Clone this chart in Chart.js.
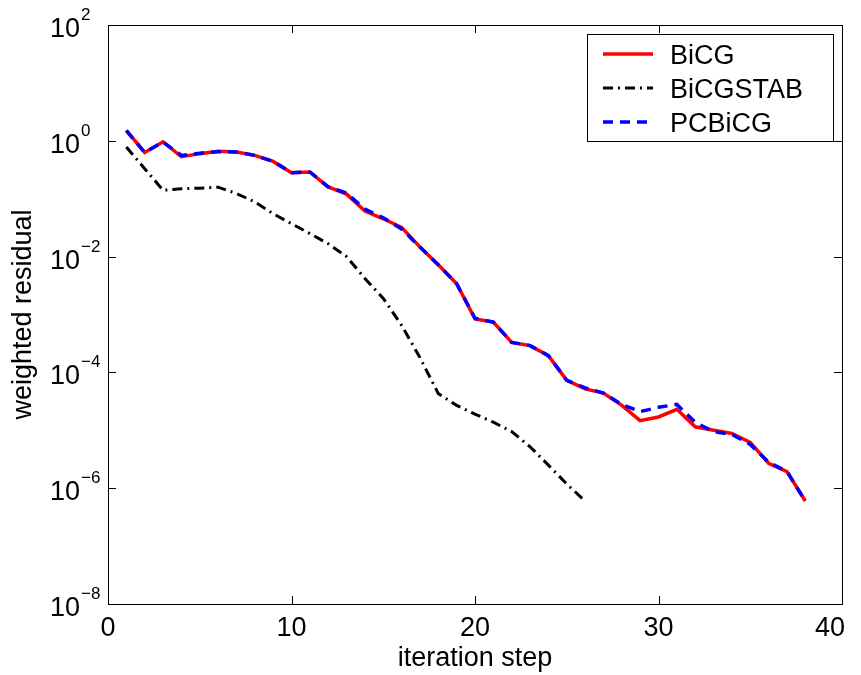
<!DOCTYPE html>
<html>
<head>
<meta charset="utf-8">
<script src="https://cdn.jsdelivr.net/npm/chart.js@4.4.1/dist/chart.umd.min.js"></script>
<style>
  html, body { margin: 0; padding: 0; background: #fff; }
</style>
</head>
<body>
<canvas id="resChart" width="861" height="675"></canvas>
<script>
// iteration steps and residuals
const steps = [1, 2, 3, 4, 5, 6, 7, 8, 9, 10, 11, 12, 13, 14, 15, 16, 17, 18, 19, 20,
               21, 22, 23, 24, 25, 26, 27, 28, 29, 30, 31, 32, 33, 34, 35, 36, 37, 38];
const bicg = [1.52, 0.63, 0.96, 0.53, 0.60, 0.66, 0.64, 0.56, 0.44, 0.28,
              0.29, 0.16, 0.12, 0.061, 0.045, 0.032, 0.0146, 0.0072, 0.0034, 0.00084,
              0.00074, 0.00033, 0.00029, 0.000195, 7.3e-5, 5.2e-5, 4.4e-5, 2.7e-5, 1.47e-5, 1.7e-5,
              2.3e-5, 1.15e-5, 1.0e-5, 8.8e-6, 6.2e-6, 2.7e-6, 1.94e-6, 6.0e-7];
const bicgstab = [0.78, 0.33, 0.14, 0.148, 0.152, 0.158, 0.123, 0.088, 0.055, 0.037,
                  0.025, 0.0167, 0.010, 0.0042, 0.0019, 6.5e-4, 1.8e-4, 4.3e-5, 2.7e-5, 1.9e-5,
                  1.38e-5, 9.5e-6, 5.2e-6, 2.5e-6, 1.18e-6, 6.0e-7];
const pcbicg = [1.5, 0.63, 0.95, 0.56, 0.61, 0.65, 0.64, 0.56, 0.44, 0.28,
                0.29, 0.16, 0.125, 0.066, 0.047, 0.030, 0.0146, 0.0072, 0.0034, 0.00086,
                0.00074, 0.00033, 0.00029, 0.000195, 7.3e-5, 5.4e-5, 4.4e-5, 2.8e-5, 2.1e-5, 2.5e-5,
                2.8e-5, 1.37e-5, 9.5e-6, 8.5e-6, 5.7e-6, 2.8e-6, 1.95e-6, 6.0e-7];

const xTicks = [0, 10, 20, 30, 40];
const yTickExps = [2, 0, -2, -4, -6, -8];

const FONT = 'Liberation Sans, Arial, sans-serif';

function toXY(vals) {
  return vals.map((v, i) => ({ x: steps[i], y: v }));
}

// box frame, inward ticks, tick labels and the boxed legend
const framePlugin = {
  id: 'frame',
  afterDraw(chart) {
    const { ctx, chartArea: a, scales: { x, y } } = chart;
    ctx.save();
    ctx.strokeStyle = '#000';
    ctx.lineWidth = 1;
    ctx.strokeRect(Math.round(a.left) + 0.5, Math.round(a.top) + 0.5,
                   Math.round(a.width), Math.round(a.height));

    const tl = 8;
    ctx.beginPath();
    xTicks.forEach(t => {
      const px = Math.round(x.getPixelForValue(t)) + 0.5;
      ctx.moveTo(px, a.bottom); ctx.lineTo(px, a.bottom - tl);
      ctx.moveTo(px, a.top); ctx.lineTo(px, a.top + tl);
    });
    yTickExps.forEach(e => {
      const py = Math.round(y.getPixelForValue(Math.pow(10, e))) + 0.5;
      ctx.moveTo(a.left, py); ctx.lineTo(a.left + tl, py);
      ctx.moveTo(a.right, py); ctx.lineTo(a.right - tl, py);
    });
    ctx.stroke();

    ctx.fillStyle = '#000';
    ctx.textBaseline = 'alphabetic';

    // x tick labels, last one kept inside the figure like the original
    ctx.font = '27px ' + FONT;
    ctx.textAlign = 'center';
    xTicks.forEach(t => {
      const s = String(t);
      const w = ctx.measureText(s).width;
      let px = x.getPixelForValue(t);
      px = Math.min(px, chart.width - 16 - w / 2);
      ctx.fillText(s, px, a.bottom + 32);
    });

    // y tick labels: "10" with a raised exponent
    ctx.textAlign = 'left';
    yTickExps.forEach(e => {
      const py = y.getPixelForValue(Math.pow(10, e));
      ctx.font = '27px ' + FONT;
      ctx.fillText('10', 50, py + 12);
      const w = ctx.measureText('10').width;
      ctx.font = '17px ' + FONT;
      ctx.fillText(e < 0 ? '\u2212' + (-e) : String(e), 50 + w + 1, py - 5);
    });

    // legend
    const bw = 246, bh = 107;
    const bx = a.right - 9 - bw, by = a.top + 9;
    ctx.fillStyle = '#fff';
    ctx.fillRect(bx, by, bw, bh);
    ctx.strokeStyle = '#000';
    ctx.lineWidth = 1;
    ctx.strokeRect(Math.round(bx) + 0.5, Math.round(by) + 0.5, bw, bh);
    ctx.font = '27px ' + FONT;
    chart.data.datasets.forEach((ds, i) => {
      const ry = by + 20 + i * 34;
      ctx.beginPath();
      ctx.strokeStyle = ds.borderColor;
      ctx.lineWidth = ds.borderWidth;
      ctx.setLineDash(ds.borderDash || []);
      ctx.moveTo(bx + 16, ry);
      ctx.lineTo(bx + 66, ry);
      ctx.stroke();
      ctx.setLineDash([]);
      ctx.fillStyle = '#000';
      ctx.fillText(ds.label, bx + 83, ry + 10);
    });
    ctx.restore();
  }
};

const ctx = document.getElementById('resChart');

new Chart(ctx, {
  type: 'line',
  data: {
    datasets: [
      {
        label: 'BiCG',
        data: toXY(bicg),
        borderColor: '#ff0000',
        borderWidth: 3.5,
        pointRadius: 0,
        fill: false,
        order: 2
      },
      {
        label: 'BiCGSTAB',
        data: toXY(bicgstab),
        borderColor: '#000000',
        borderWidth: 3,
        borderDash: [10, 5, 2, 5],
        pointRadius: 0,
        fill: false,
        order: 1
      },
      {
        label: 'PCBiCG',
        data: toXY(pcbicg),
        borderColor: '#0000ff',
        borderWidth: 3.5,
        borderDash: [10, 7],
        pointRadius: 0,
        fill: false,
        order: 0
      }
    ]
  },
  options: {
    responsive: false,
    animation: false,
    layout: { padding: { top: 25, right: 19, left: 0, bottom: 0 } },
    plugins: {
      legend: { display: false },
      tooltip: { enabled: false }
    },
    scales: {
      x: {
        type: 'linear',
        min: 0,
        max: 40,
        grid: { display: false },
        border: { display: false },
        ticks: { display: false, stepSize: 10 },
        title: {
          display: true,
          text: 'iteration step',
          color: '#000',
          font: { family: FONT, size: 27, lineHeight: 1 },
          padding: { top: 0, bottom: 3 }
        },
        afterFit(scale) { scale.height = 71; }
      },
      y: {
        type: 'logarithmic',
        min: 1e-8,
        max: 1e2,
        grid: { display: false },
        border: { display: false },
        ticks: { display: false },
        title: {
          display: true,
          text: 'weighted residual',
          color: '#000',
          font: { family: FONT, size: 27, lineHeight: 1 },
          padding: { top: 10, bottom: 0 }
        },
        afterFit(scale) { scale.width = 108; }
      }
    }
  },
  plugins: [framePlugin]
});
</script>
</body>
</html>
